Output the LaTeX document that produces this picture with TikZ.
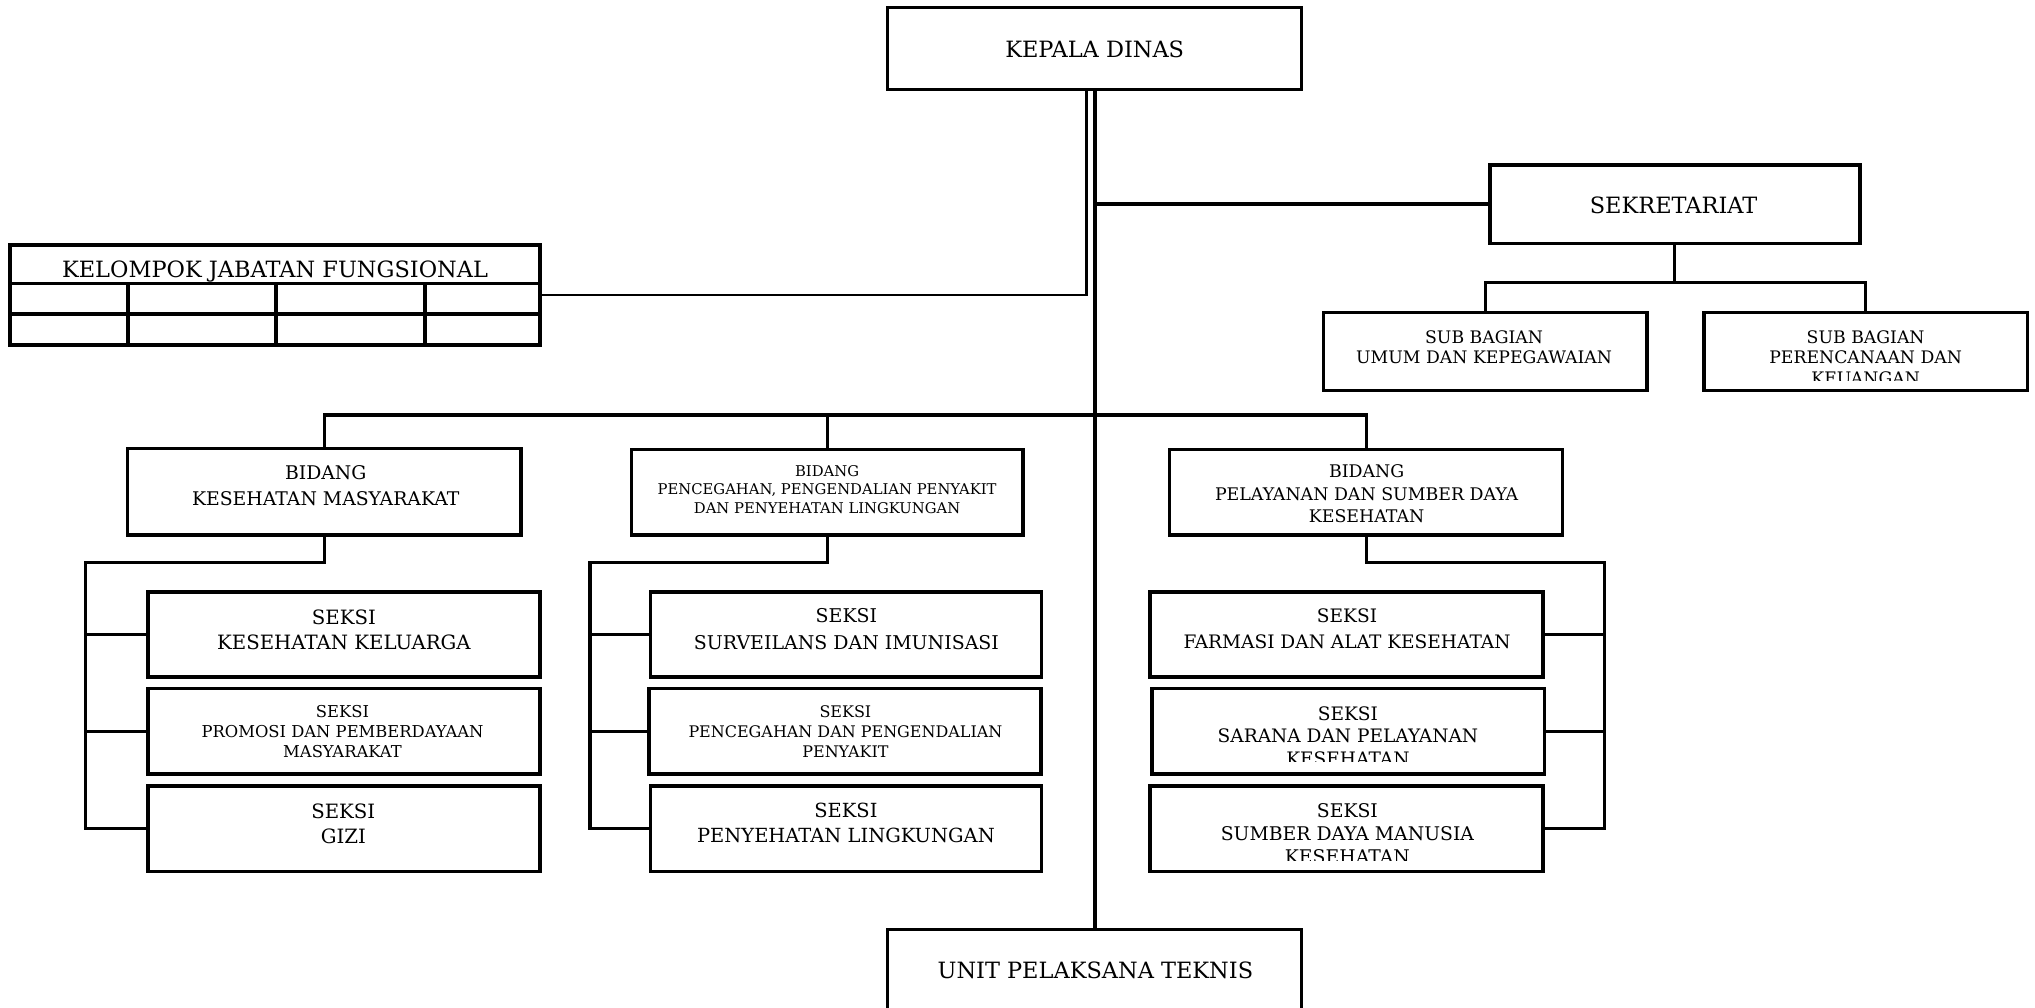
\documentclass[tikz,border=0pt]{standalone}
\usepackage{fontspec}
\setmainfont{DejaVu Serif}
\newcommand\myfs[2]{\fontsize{#1pt}{#2pt}\selectfont}
\begin{document}
\begin{tikzpicture}[x=1pt,y=-1pt,
  box/.style={draw, line width=2.6pt, inner sep=0pt, outer sep=0pt, anchor=north west},
  txt/.style={align=center, inner sep=0pt, outer sep=0pt},
  conn/.style={line width=2.45pt},
  mainc/.style={line width=3.2pt},
  thinc/.style={line width=2.1pt},
  tbl/.style={line width=2.6pt}]
\useasboundingbox (0,0) rectangle (1568,776);
\clip (0,0) rectangle (1568,776);
% boxes
\node[box, minimum width=319pt, minimum height=63pt] (kd) at (684,6) {};
\node[box, minimum width=285pt, minimum height=60.5pt] (sek) at (1148,127) {};
\node[box, minimum width=249pt, minimum height=60pt] (sub1) at (1020,241) {};
\node[box, minimum width=249pt, minimum height=60pt] (sub2) at (1313,241) {};
\node[box, minimum width=408.3pt, minimum height=77pt] (kjf) at (7.7,188.8) {};
\node[box, minimum width=303pt, minimum height=66.5pt] (b1) at (98.3,345.7) {};
\node[box, minimum width=301.6pt, minimum height=66pt] (b2) at (486.5,346.2) {};
\node[box, minimum width=302.8pt, minimum height=66pt] (b3) at (901.2,346.2) {};
\node[box, minimum width=302pt, minimum height=65.6pt] (s11) at (114,456) {};
\node[box, minimum width=302pt, minimum height=66pt] (s12) at (114,530.4) {};
\node[box, minimum width=302pt, minimum height=66pt] (s13) at (114,605.6) {};
\node[box, minimum width=301.3pt, minimum height=65.6pt] (s21) at (501.3,456) {};
\node[box, minimum width=302pt, minimum height=66pt] (s22) at (500,530.4) {};
\node[box, minimum width=301.3pt, minimum height=66pt] (s23) at (501.3,605.6) {};
\node[box, minimum width=302.7pt, minimum height=65.6pt] (s31) at (886.1,456) {};
\node[box, minimum width=302.6pt, minimum height=66pt] (s32) at (887.5,530.4) {};
\node[box, minimum width=302.7pt, minimum height=66pt] (s33) at (886.1,605.6) {};
\node[box, minimum width=319pt, minimum height=90pt] (upt) at (684,716) {};
% table grid
\draw[tbl] (7.7,218.3) -- (416,218.3);
\draw[tbl] (7.7,242) -- (416,242);
\draw[tbl] (98.5,218.3) -- (98.5,265.8);
\draw[tbl] (212.7,218.3) -- (212.7,265.8);
\draw[tbl] (327.5,218.3) -- (327.5,265.8);
% texts
\node[txt, font=\myfs{17.3}{20}] (kdt) at (843.5,37.8) {KEPALA DINAS};
\node[txt, font=\myfs{17.3}{20}] (sekt) at (1289.5,158.5) {SEKRETARIAT};
\node[txt, font=\myfs{17.3}{20}] (kjft) at (211.9,209) {KELOMPOK JABATAN FUNGSIONAL};
\node[txt, font=\myfs{17.3}{20}] (uptt) at (844,748) {UNIT PELAKSANA TEKNIS};
\node[txt, font=\myfs{13.3}{15.7}] (sub1t) at (1143.5,267.7) {SUB BAGIAN\\UMUM DAN KEPEGAWAIAN};
\begin{scope}
\clip (1313,241) rectangle (1562,292.8);
\node[txt, font=\myfs{13.3}{15.7}] (sub2t) at (1437.5,275.5) {SUB BAGIAN\\PERENCANAAN DAN\\KEUANGAN};
\end{scope}
\node[txt, font=\myfs{14.5}{20.2}] (b1t) at (251,373.9) {BIDANG\\KESEHATAN MASYARAKAT};
\node[txt, font=\myfs{11.4}{14.2}] (b2t) at (637.3,377.2) {BIDANG\\PENCEGAHAN, PENGENDALIAN PENYAKIT\\DAN PENYEHATAN LINGKUNGAN};
\node[txt, font=\myfs{13.4}{17.25}] (b3t) at (1053,380.6) {BIDANG\\PELAYANAN DAN SUMBER DAYA\\KESEHATAN};
\node[txt, font=\myfs{15.2}{19.1}] (s11t) at (265,485) {SEKSI\\KESEHATAN KELUARGA};
\node[txt, font=\myfs{12.6}{15.4}] (s12t) at (263.9,563.4) {SEKSI\\PROMOSI DAN PEMBERDAYAAN\\MASYARAKAT};
\node[txt, font=\myfs{15.2}{19.9}] (s13t) at (264.5,634.7) {SEKSI\\GIZI};
\node[txt, font=\myfs{14.6}{20.2}] (s21t) at (652.2,484.7) {SEKSI\\SURVEILANS DAN IMUNISASI};
\node[txt, font=\myfs{12.3}{15.4}] (s22t) at (651.4,563.4) {SEKSI\\PENCEGAHAN DAN PENGENDALIAN\\PENYAKIT};
\node[txt, font=\myfs{15}{19.2}] (s23t) at (651.8,634.4) {SEKSI\\PENYEHATAN LINGKUNGAN};
\node[txt, font=\myfs{14.3}{20.2}] (s31t) at (1037.9,484.7) {SEKSI\\FARMASI DAN ALAT KESEHATAN};
\begin{scope}
\clip (887.5,530.4) rectangle (1190.1,586.9);
\node[txt, font=\myfs{14.3}{17.4}] (s32t) at (1038.6,567) {SEKSI\\SARANA DAN PELAYANAN\\KESEHATAN};
\end{scope}
\begin{scope}
\clip (886.1,605.6) rectangle (1188.8,662.7);
\node[txt, font=\myfs{14.5}{18}] (s33t) at (1038.2,642.4) {SEKSI\\SUMBER DAYA MANUSIA\\KESEHATAN};
\end{scope}
% coordinates
\coordinate (tx) at (837,0);
\coordinate (kb) at (1290.5,217.8);
\coordinate (bus) at (843.5,319.8);
\coordinate (k1) at (66,433.3);
\coordinate (k2) at (454.6,433.3);
\coordinate (k3) at (1236.2,433.3);
% connectors
\draw[mainc] (kd.south) -- (upt.north);
\draw[thinc] (kd.south -| tx) |- (kjf.east);
\draw[conn] (kd.south |- sek.west) -- (sek.west);
\draw[conn] (sek.south) -- (kb);
\draw[conn] (sub1.north) |- (kb) -| (sub2.north);
\draw[conn] (b1.north) |- (bus) -| (b3.north);
\draw[conn] (b2.north) -- (b2.north |- bus);
\draw[conn] (b1.south) |- (k1) |- (s13.west);
\draw[conn] (k1 |- s11.west) -- (s11.west);
\draw[conn] (k1 |- s12.west) -- (s12.west);
\draw[conn] (b2.south) |- (k2) |- (s23.west);
\draw[conn] (k2 |- s21.west) -- (s21.west);
\draw[conn] (k2 |- s22.west) -- (s22.west);
\draw[conn] (b3.south) |- (k3) |- (s33.east);
\draw[conn] (k3 |- s31.east) -- (s31.east);
\draw[conn] (k3 |- s32.east) -- (s32.east);
\end{tikzpicture}
\end{document}
